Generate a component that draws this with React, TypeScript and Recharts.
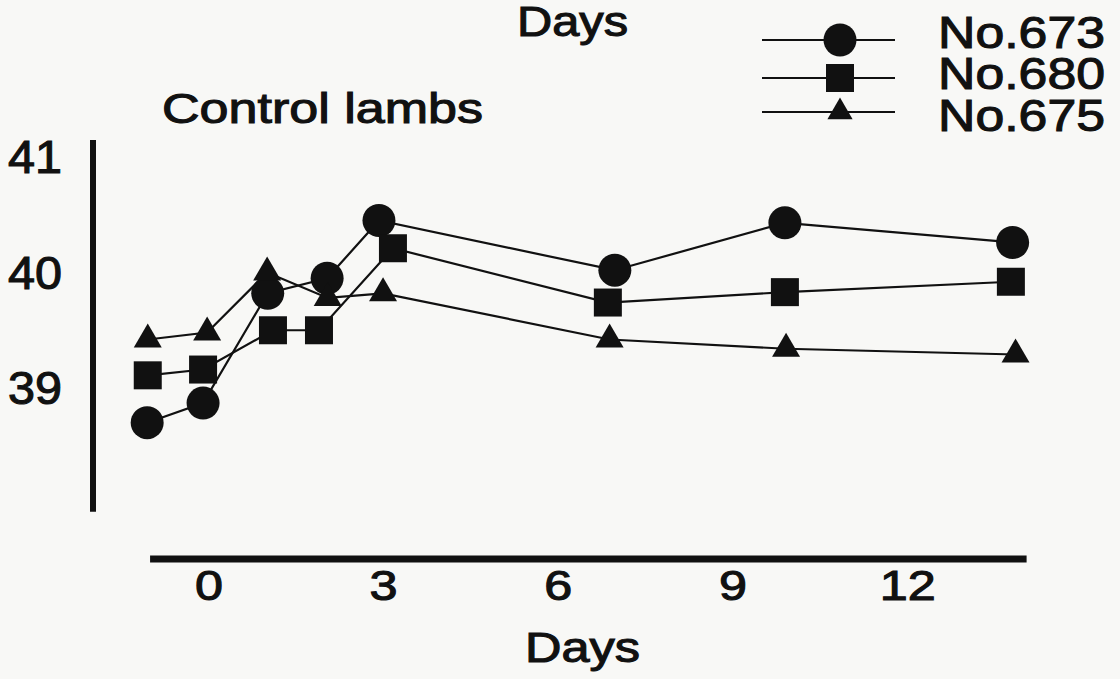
import React from 'react';
import { LineChart, Line, XAxis, YAxis, ReferenceLine, Legend } from 'recharts';

// series: day offsets and body temperature (°C)
const seriesNames = ['No.673', 'No.680', 'No.675'];

const days673 = [-1.06, -0.1, 1.01, 2.03, 2.92, 6.97, 9.89, 13.8];
const temp673 = [38.7, 38.87, 39.82, 39.95, 40.45, 40.02, 40.43, 40.26];

const days680 = [-1.05, -0.1, 1.1, 1.89, 3.16, 6.85, 9.89, 13.77];
const temp680 = [39.11, 39.16, 39.5, 39.5, 40.21, 39.74, 39.83, 39.92];

const days675 = [-1.05, -0.03, 1.0, 2.04, 2.99, 6.88, 9.91, 13.85];
const temp675 = [39.42, 39.48, 40.0, 39.78, 39.82, 39.42, 39.34, 39.29];

const xTicks = [0, 3, 6, 9, 12];
const yTicks = [39, 40, 41];

const xDomain: [number, number] = [-1.99, 14.27];
const yDomain: [number, number] = [37.52, 41.147];

const FONT = '"Liberation Sans", Arial, Helvetica, sans-serif';
const INK = '#111';
const PAPER = '#f8f8f6';

type Shape = 'circle' | 'square' | 'triangle';
const shapes: Shape[] = ['circle', 'square', 'triangle'];

const toPoints = (days: number[], temps: number[]) =>
  days.map((d, i) => ({ day: d, temp: temps[i] }));

const Marker = ({ shape, cx, cy, size = 1 }: { shape: Shape; cx: number; cy: number; size?: number }) => {
  if (cx == null || cy == null) return null;
  if (shape === 'circle') return <circle cx={cx} cy={cy} r={16.5 * size} fill={INK} />;
  if (shape === 'square') {
    const s = 28 * size;
    return <rect x={cx - s / 2} y={cy - s / 2} width={s} height={s} fill={INK} />;
  }
  const w = 28 * size;
  const h = 24 * size;
  return (
    <polygon
      points={`${cx},${cy - (h * 2) / 3} ${cx - w / 2},${cy + h / 3} ${cx + w / 2},${cy + h / 3}`}
      fill={INK}
    />
  );
};

const makeDot = (shape: Shape) => (p: any) => (
  <Marker key={`${shape}-${p.index}`} shape={shape} cx={p.cx} cy={p.cy} />
);

// the scanned lettering is wider than Arial, so stretch glyphs to the measured widths
const txt = {
  fontFamily: FONT,
  fill: INK,
  stroke: INK,
  strokeWidth: 1.1,
  lengthAdjust: 'spacingAndGlyphs' as const,
};

const XTick = (p: any) => {
  const label = String(p.payload.value);
  return (
    <text x={p.x} y={p.y + 30} textAnchor="middle" fontSize={42} textLength={28 * label.length} {...txt}>
      {label}
    </text>
  );
};

const YTick = (p: any) => {
  const label = String(p.payload.value);
  return (
    <text x={p.x} y={p.y + 16} textAnchor="end" fontSize={46} textLength={27 * label.length} {...txt}>
      {label}
    </text>
  );
};

const legendLineY = [40, 78, 112];
const legendTextY = [48, 89, 131];

const renderLegend = (props: any) => {
  const payload = props.payload || [];
  return (
    <svg width={380} height={160} style={{ display: 'block', overflow: 'visible' }}>
      {payload.map((entry: any, i: number) => {
        const idx = Math.max(0, seriesNames.indexOf(entry.value));
        return (
          <g key={entry.value ?? i}>
            <line x1={22} x2={155} y1={legendLineY[idx]} y2={legendLineY[idx]} stroke={INK} strokeWidth={2.2} />
            <Marker shape={shapes[idx]} cx={100} cy={legendLineY[idx]} size={idx === 2 ? 0.9 : 1} />
            <text x={198} y={legendTextY[idx]} fontSize={44} textLength={167} {...txt}>
              {entry.value}
            </text>
          </g>
        );
      })}
    </svg>
  );
};

export default function App() {
  return (
    <div style={{ position: 'absolute', left: 0, top: 0, width: 1120, height: 679, background: PAPER, overflow: 'hidden' }}>
      <LineChart width={1120} height={679} margin={{ top: 140, right: 80, bottom: 0, left: 0 }}>
        <XAxis
          type="number"
          dataKey="day"
          domain={xDomain}
          ticks={xTicks}
          allowDataOverflow
          axisLine={false}
          tickLine={false}
          tickSize={0}
          tickMargin={11}
          height={120}
          tick={XTick}
        />
        <YAxis
          type="number"
          domain={yDomain}
          ticks={yTicks}
          allowDataOverflow
          axisLine={false}
          tickLine={false}
          tickSize={0}
          tickMargin={31}
          width={93}
          tick={YTick}
        />
        {/* detached axis bars, as drawn in the original figure */}
        <ReferenceLine
          segment={[{ x: xDomain[0], y: 37.93 }, { x: xDomain[0], y: yDomain[1] }]}
          stroke={INK}
          strokeWidth={6}
          ifOverflow="visible"
        />
        <ReferenceLine
          segment={[{ x: -1.01, y: yDomain[0] }, { x: 14.04, y: yDomain[0] }]}
          stroke={INK}
          strokeWidth={7}
          ifOverflow="visible"
        />
        <Legend
          layout="horizontal"
          verticalAlign="middle"
          align="center"
          wrapperStyle={{ position: 'absolute', left: 740, top: 0, width: 380, height: 160 }}
          content={renderLegend}
        />
        <Line
          name={seriesNames[0]}
          data={toPoints(days673, temp673)}
          dataKey="temp"
          stroke={INK}
          strokeWidth={2.2}
          dot={makeDot('circle')}
          activeDot={false}
          isAnimationActive={false}
        />
        <Line
          name={seriesNames[1]}
          data={toPoints(days680, temp680)}
          dataKey="temp"
          stroke={INK}
          strokeWidth={2.2}
          dot={makeDot('square')}
          activeDot={false}
          isAnimationActive={false}
        />
        <Line
          name={seriesNames[2]}
          data={toPoints(days675, temp675)}
          dataKey="temp"
          stroke={INK}
          strokeWidth={2.2}
          dot={makeDot('triangle')}
          activeDot={false}
          isAnimationActive={false}
        />
      </LineChart>
      <svg
        width={1120}
        height={679}
        style={{ position: 'absolute', left: 0, top: 0, pointerEvents: 'none' }}
      >
        <text x={517} y={36} fontSize={42} textLength={111} {...txt}>Days</text>
        <text x={162} y={123} fontSize={43} textLength={321} {...txt}>Control lambs</text>
        <text x={525} y={662} fontSize={42} textLength={115} {...txt}>Days</text>
      </svg>
    </div>
  );
}
